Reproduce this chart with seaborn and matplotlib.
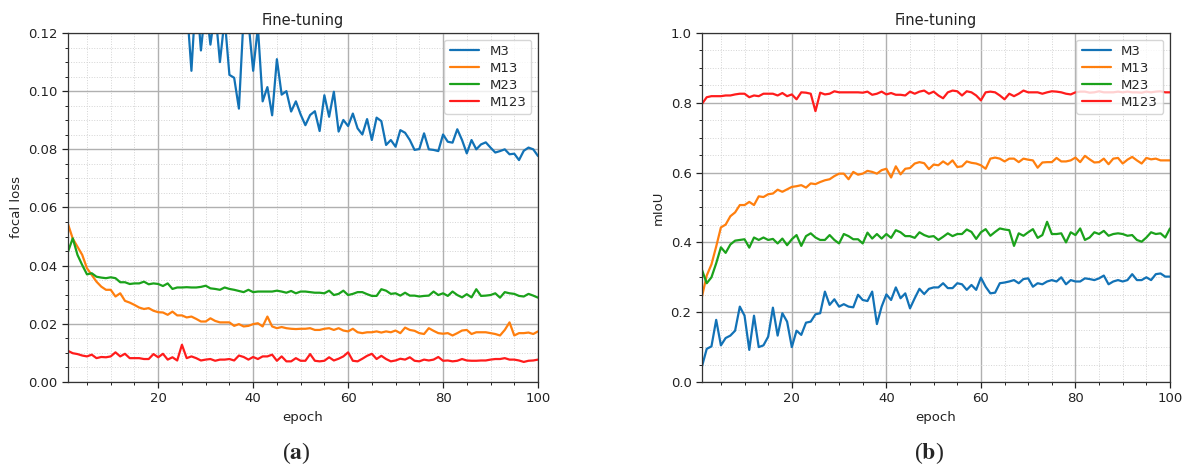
import numpy as np
import pandas as pd
import matplotlib
matplotlib.use('Agg')
import matplotlib.pyplot as plt
import seaborn as sns
from matplotlib.ticker import MultipleLocator, FormatStrFormatter

epochs = list(range(1, 101))
models = ['M3', 'M13', 'M23', 'M123']
colors = ['#1272b6', '#ff7f0e', '#1ba21b', '#ff1c1c']

# focal loss (M3 runs off the top of the axis for the early epochs)
loss_m3 = [0.34, 0.31, 0.29, 0.27, 0.25, 0.24, 0.23, 0.22, 0.21, 0.20,
           0.195, 0.19, 0.18, 0.175, 0.17, 0.165, 0.16, 0.155, 0.15, 0.148,
           0.145, 0.14, 0.138, 0.135, 0.132, 0.13, 0.107, 0.135, 0.114, 0.13,
           0.116, 0.128, 0.110, 0.125, 0.1056, 0.1046, 0.094, 0.126, 0.124, 0.107,
           0.122, 0.0965, 0.1014, 0.0917, 0.111, 0.0988, 0.100, 0.093, 0.0965, 0.092,
           0.0883, 0.0918, 0.0931, 0.0863, 0.0986, 0.0912, 0.0998, 0.0861, 0.0901, 0.088,
           0.0923, 0.0872, 0.0851, 0.0904, 0.0832, 0.0909, 0.0897, 0.0815, 0.0832, 0.0809,
           0.0866, 0.0857, 0.0832, 0.0798, 0.0801, 0.0855, 0.080, 0.0798, 0.0794, 0.0851,
           0.0826, 0.0823, 0.0869, 0.0832, 0.0786, 0.0832, 0.080, 0.0817, 0.0824, 0.0806,
           0.0789, 0.0794, 0.080, 0.0783, 0.0785, 0.0763, 0.0795, 0.0806, 0.0800, 0.0777]
loss_m13 = [0.0543, 0.0493, 0.0465, 0.0437, 0.0391, 0.0368, 0.0345, 0.0328, 0.0317, 0.0317,
            0.0294, 0.0305, 0.0279, 0.0273, 0.0265, 0.0256, 0.0251, 0.0254, 0.0245, 0.0240,
            0.0239, 0.0231, 0.0242, 0.0229, 0.0229, 0.0222, 0.0225, 0.0217, 0.0208, 0.0208,
            0.0219, 0.0210, 0.0205, 0.0205, 0.0205, 0.0193, 0.0199, 0.0191, 0.0193, 0.0199,
            0.0202, 0.0191, 0.0225, 0.0191, 0.0185, 0.0189, 0.0185, 0.0183, 0.0182, 0.0183,
            0.0183, 0.0185, 0.0179, 0.0179, 0.0183, 0.0185, 0.0179, 0.0185, 0.0177, 0.0174,
            0.0183, 0.0171, 0.0168, 0.0171, 0.0171, 0.0174, 0.0170, 0.0174, 0.0171, 0.0177,
            0.0168, 0.0187, 0.0179, 0.0176, 0.0168, 0.0165, 0.0185, 0.0176, 0.0168, 0.0166,
            0.0168, 0.0160, 0.0168, 0.0177, 0.0179, 0.0165, 0.0171, 0.0171, 0.0171, 0.0168,
            0.0165, 0.0160, 0.0179, 0.0205, 0.0160, 0.0168, 0.0168, 0.0170, 0.0165, 0.0174]
loss_m23 = [0.0448, 0.0494, 0.0437, 0.0402, 0.0370, 0.0374, 0.0362, 0.0359, 0.0357, 0.0360,
            0.0357, 0.0343, 0.0343, 0.0337, 0.0339, 0.0339, 0.0345, 0.0336, 0.0339, 0.0337,
            0.0330, 0.0339, 0.0320, 0.0325, 0.0325, 0.0326, 0.0325, 0.0325, 0.0327, 0.0331,
            0.0322, 0.0320, 0.0317, 0.0325, 0.0320, 0.0317, 0.0313, 0.0309, 0.0317, 0.0309,
            0.0311, 0.0311, 0.0311, 0.0311, 0.0314, 0.0311, 0.0307, 0.0313, 0.0305, 0.0311,
            0.0311, 0.0309, 0.0307, 0.0307, 0.0305, 0.0314, 0.0299, 0.0303, 0.0314, 0.0299,
            0.0303, 0.0309, 0.0309, 0.0302, 0.0296, 0.0296, 0.0319, 0.0314, 0.0303, 0.0305,
            0.0297, 0.0307, 0.0297, 0.0297, 0.0294, 0.0296, 0.0297, 0.0311, 0.0299, 0.0305,
            0.0296, 0.0311, 0.0299, 0.0291, 0.0302, 0.0291, 0.0319, 0.0296, 0.0297, 0.0299,
            0.0305, 0.0290, 0.0309, 0.0305, 0.0303, 0.0296, 0.0294, 0.0303, 0.0297, 0.0290]
loss_m123 = [0.0107, 0.0099, 0.0096, 0.0091, 0.0088, 0.0094, 0.0082, 0.0086, 0.0085, 0.0088,
             0.0102, 0.0088, 0.0097, 0.0082, 0.0082, 0.0082, 0.0079, 0.0079, 0.0096, 0.0085,
             0.0097, 0.0077, 0.0085, 0.0074, 0.0128, 0.0082, 0.0088, 0.0082, 0.0074, 0.0077,
             0.0079, 0.0073, 0.0077, 0.0077, 0.0079, 0.0074, 0.0091, 0.0086, 0.0077, 0.0086,
             0.0079, 0.0088, 0.0088, 0.0094, 0.0073, 0.0088, 0.0071, 0.0071, 0.0082, 0.0073,
             0.0073, 0.0096, 0.0073, 0.0071, 0.0073, 0.0085, 0.0074, 0.0080, 0.0088, 0.0102,
             0.0073, 0.0071, 0.0080, 0.0090, 0.0097, 0.0079, 0.0090, 0.0079, 0.0071, 0.0074,
             0.0080, 0.0077, 0.0085, 0.0073, 0.0071, 0.0077, 0.0074, 0.0077, 0.0086, 0.0073,
             0.0074, 0.0071, 0.0073, 0.0079, 0.0074, 0.0073, 0.0073, 0.0074, 0.0074, 0.0077,
             0.0079, 0.0079, 0.0082, 0.0077, 0.0077, 0.0074, 0.0069, 0.0073, 0.0074, 0.0077]

# mIoU
miou_m3 = [0.045, 0.095, 0.102, 0.178, 0.105, 0.126, 0.133, 0.147, 0.216, 0.190,
           0.092, 0.190, 0.100, 0.105, 0.130, 0.213, 0.133, 0.197, 0.173, 0.100,
           0.147, 0.135, 0.170, 0.173, 0.194, 0.197, 0.259, 0.221, 0.237, 0.216,
           0.223, 0.216, 0.214, 0.250, 0.235, 0.232, 0.259, 0.166, 0.216, 0.251,
           0.235, 0.271, 0.240, 0.254, 0.211, 0.240, 0.267, 0.252, 0.267, 0.271,
           0.271, 0.283, 0.269, 0.269, 0.283, 0.280, 0.264, 0.278, 0.264, 0.299,
           0.273, 0.254, 0.256, 0.283, 0.285, 0.288, 0.292, 0.283, 0.295, 0.297,
           0.273, 0.283, 0.280, 0.288, 0.292, 0.288, 0.300, 0.280, 0.292, 0.288,
           0.288, 0.297, 0.295, 0.292, 0.297, 0.305, 0.280, 0.288, 0.292, 0.288,
           0.292, 0.309, 0.292, 0.292, 0.300, 0.292, 0.309, 0.311, 0.302, 0.302]
miou_m13 = [0.245, 0.305, 0.337, 0.388, 0.443, 0.451, 0.475, 0.486, 0.507, 0.507,
            0.516, 0.507, 0.532, 0.530, 0.538, 0.540, 0.551, 0.545, 0.552, 0.559,
            0.561, 0.564, 0.557, 0.569, 0.567, 0.573, 0.578, 0.581, 0.590, 0.597,
            0.597, 0.581, 0.602, 0.594, 0.597, 0.605, 0.602, 0.597, 0.607, 0.611,
            0.586, 0.618, 0.595, 0.611, 0.613, 0.626, 0.630, 0.627, 0.610, 0.623,
            0.621, 0.632, 0.623, 0.635, 0.616, 0.618, 0.632, 0.628, 0.626, 0.621,
            0.611, 0.640, 0.643, 0.640, 0.632, 0.640, 0.640, 0.630, 0.640, 0.637,
            0.635, 0.614, 0.629, 0.630, 0.630, 0.642, 0.632, 0.632, 0.635, 0.643,
            0.630, 0.648, 0.638, 0.629, 0.630, 0.640, 0.624, 0.640, 0.642, 0.626,
            0.637, 0.645, 0.635, 0.626, 0.642, 0.638, 0.640, 0.635, 0.635, 0.635]
miou_m23 = [0.321, 0.283, 0.300, 0.340, 0.386, 0.370, 0.394, 0.405, 0.407, 0.409,
            0.385, 0.414, 0.407, 0.414, 0.407, 0.410, 0.397, 0.411, 0.392, 0.409,
            0.421, 0.390, 0.418, 0.426, 0.414, 0.407, 0.407, 0.421, 0.407, 0.397,
            0.424, 0.418, 0.409, 0.409, 0.397, 0.428, 0.411, 0.424, 0.411, 0.424,
            0.413, 0.435, 0.429, 0.418, 0.418, 0.413, 0.429, 0.421, 0.416, 0.418,
            0.407, 0.416, 0.426, 0.418, 0.424, 0.424, 0.437, 0.430, 0.410, 0.429,
            0.438, 0.419, 0.430, 0.440, 0.437, 0.435, 0.390, 0.426, 0.419, 0.429,
            0.438, 0.413, 0.421, 0.459, 0.424, 0.424, 0.426, 0.400, 0.429, 0.421,
            0.440, 0.407, 0.414, 0.429, 0.424, 0.433, 0.419, 0.424, 0.426, 0.424,
            0.419, 0.421, 0.407, 0.402, 0.414, 0.429, 0.424, 0.426, 0.414, 0.440]
miou_m123 = [0.797, 0.816, 0.819, 0.819, 0.819, 0.821, 0.821, 0.824, 0.826, 0.826,
             0.816, 0.821, 0.819, 0.826, 0.826, 0.826, 0.821, 0.828, 0.819, 0.824,
             0.810, 0.830, 0.829, 0.826, 0.776, 0.829, 0.824, 0.826, 0.833, 0.830,
             0.830, 0.830, 0.830, 0.830, 0.829, 0.832, 0.823, 0.826, 0.832, 0.824,
             0.828, 0.823, 0.823, 0.821, 0.832, 0.826, 0.832, 0.835, 0.826, 0.832,
             0.821, 0.813, 0.830, 0.835, 0.833, 0.821, 0.833, 0.830, 0.821, 0.807,
             0.830, 0.832, 0.830, 0.821, 0.810, 0.826, 0.819, 0.826, 0.835, 0.830,
             0.830, 0.830, 0.826, 0.830, 0.833, 0.832, 0.830, 0.826, 0.824, 0.830,
             0.832, 0.832, 0.829, 0.830, 0.833, 0.830, 0.830, 0.830, 0.832, 0.830,
             0.832, 0.830, 0.830, 0.829, 0.832, 0.830, 0.832, 0.833, 0.830, 0.830]


def long_df(series):
    frames = [pd.DataFrame({'epoch': epochs, 'value': vals, 'model': name})
              for name, vals in zip(models, series)]
    return pd.concat(frames, ignore_index=True)


loss_df = long_df([loss_m3, loss_m13, loss_m23, loss_m123])
miou_df = long_df([miou_m3, miou_m13, miou_m23, miou_m123])

sns.set_style('ticks')
plt.rcParams['font.family'] = ['DejaVu Sans']
plt.rcParams['mathtext.fontset'] = 'stix'

fig = plt.figure(figsize=(11.9, 4.69), dpi=100)
fig.set_facecolor('#FFFFFF')
ax1 = fig.add_axes([68 / 1190, 1 - 382 / 469, 470 / 1190, 349 / 469])
ax2 = fig.add_axes([702 / 1190, 1 - 382 / 469, 468 / 1190, 349 / 469])

panels = [
    (ax1, loss_df, 'focal loss', (0, 0.12), 0.02, 0.005, '%.2f'),
    (ax2, miou_df, 'mIoU', (0, 1.0), 0.2, 0.05, '%.1f'),
]

for ax, df, ylabel, ylim, ymaj, ymin, fmt in panels:
    sns.lineplot(data=df, x='epoch', y='value', hue='model', hue_order=models,
                 palette=colors, linewidth=1.6, ax=ax)
    ax.set_xlim(1, 100)
    ax.set_ylim(*ylim)
    ax.xaxis.set_major_locator(MultipleLocator(20))
    ax.xaxis.set_minor_locator(MultipleLocator(5))
    ax.yaxis.set_major_locator(MultipleLocator(ymaj))
    ax.yaxis.set_minor_locator(MultipleLocator(ymin))
    ax.yaxis.set_major_formatter(FormatStrFormatter(fmt))
    ax.grid(which='major', color='#b0b0b0', linewidth=1.0, linestyle='-')
    ax.grid(which='minor', color='#d4d4d4', linewidth=0.7, linestyle=':')
    ax.set_axisbelow(True)
    ax.tick_params(which='major', direction='out', length=4, width=0.9,
                   labelsize=9.5, colors='#222222')
    ax.tick_params(which='minor', direction='out', length=2.5, width=0.7, colors='#222222')
    for sp in ax.spines.values():
        sp.set_visible(True)
        sp.set_color('#333333')
        sp.set_linewidth(0.9)
    ax.set_xlabel('epoch', fontsize=9.5, color='#222222')
    ax.set_ylabel(ylabel, fontsize=9.5, color='#222222')
    ax.set_title('Fine-tuning', fontsize=10.5, color='#222222')
    ax.legend(loc='upper right', fontsize=9.5, frameon=True, fancybox=True,
              framealpha=0.8, edgecolor='#cccccc', handlelength=2.2,
              borderpad=0.4, labelspacing=0.3)

fig.text(296 / 1190, 1 - 453 / 469, r'($\mathbf{a}$)', fontsize=17,
         ha='center', va='center', family='Liberation Serif')
fig.text(929 / 1190, 1 - 453 / 469, r'($\mathbf{b}$)', fontsize=17,
         ha='center', va='center', family='Liberation Serif')

fig.savefig('out.png', dpi=100)
